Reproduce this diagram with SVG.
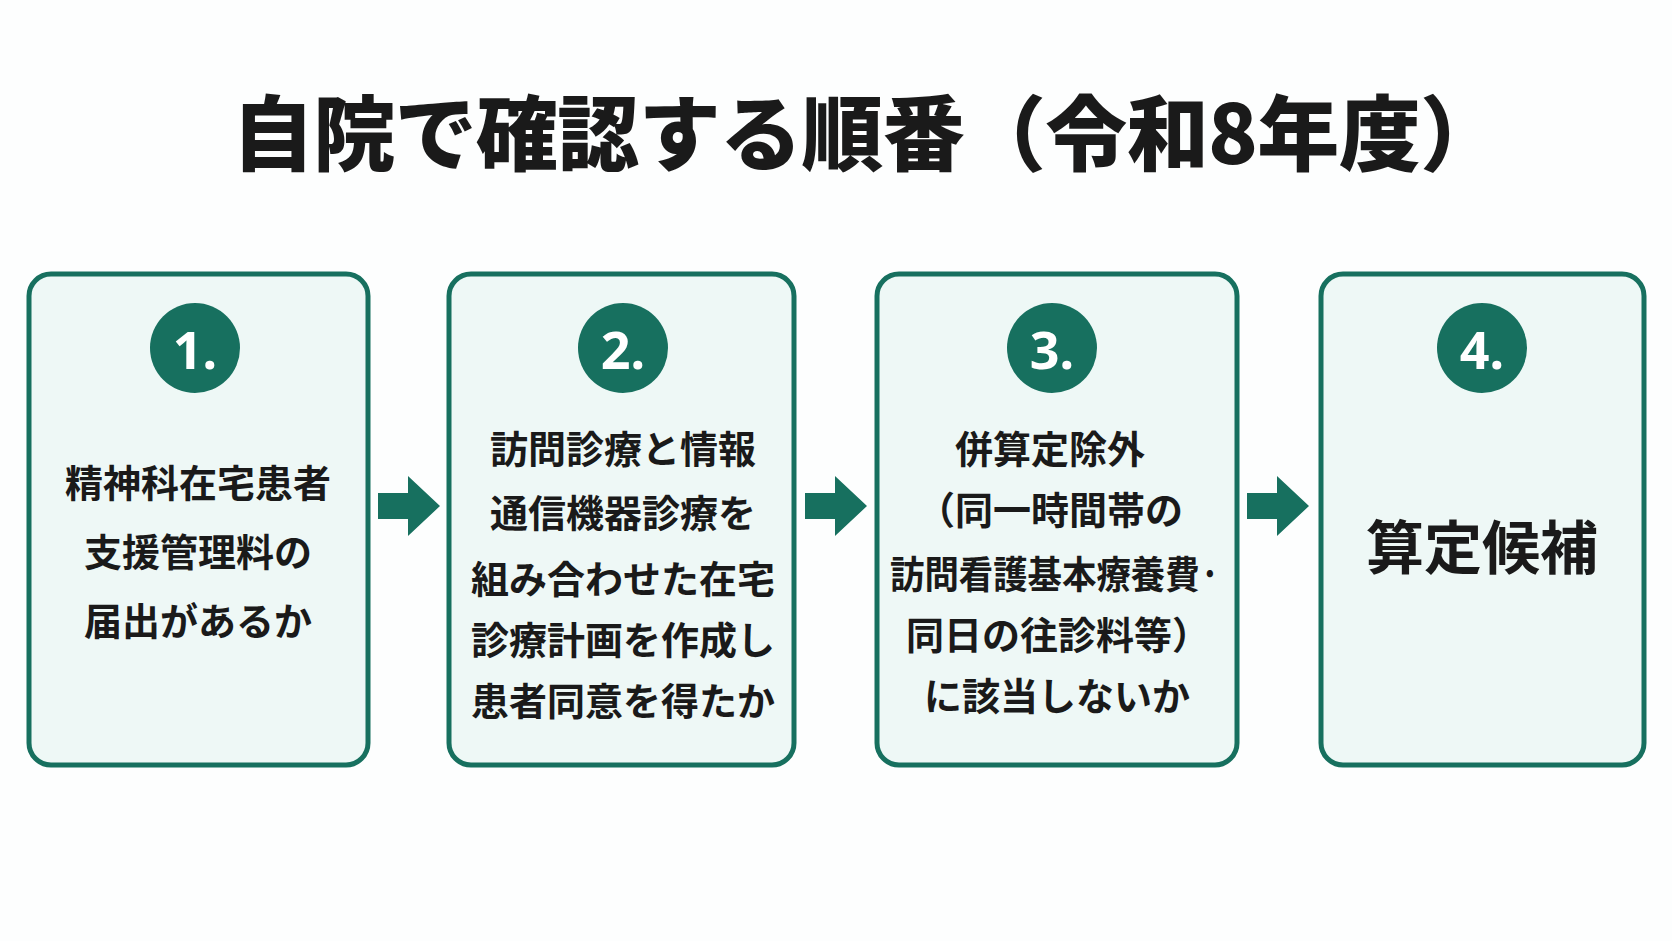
<svg xmlns="http://www.w3.org/2000/svg" width="1672" height="941" viewBox="0 0 1672 941">
<style>
.box{fill:#eef8f6;stroke:#17705f;stroke-width:5}
.num{fill:#17705f}
.nt{fill:#fff;font-family:"Noto Sans","Noto Sans CJK JP",sans-serif;font-weight:700;font-size:52px;text-anchor:middle;dominant-baseline:central}
.t{fill:#1a1a1a;font-family:"Noto Sans CJK JP",sans-serif;font-weight:700;font-size:38px;text-anchor:middle;dominant-baseline:central}
.arr{fill:#17705f}
</style>
<rect width="1672" height="941" fill="#fdfefe"/>
<text x="232" y="128" textLength="1270" lengthAdjust="spacing" style="fill:#1a1a1a;font-family:'Noto Sans CJK JP',sans-serif;font-weight:900;font-size:82px;dominant-baseline:central">自院で確認する順番（令和8年度）</text>
<g id="connectors">
<polygon class="arr" points="378,493 408,493 408,476 440,506 408,536 408,519 378,519"/>
<polygon class="arr" points="805,493 835,493 835,476 867,506 835,536 835,519 805,519"/>
<polygon class="arr" points="1247,493 1277,493 1277,476 1309,506 1277,536 1277,519 1247,519"/>
</g>
<g id="node1">
<rect class="box" x="29" y="274" width="339" height="491" rx="22"/>
<circle class="num" cx="195" cy="348" r="45"/><text class="nt" x="195" y="348">1.</text>
<text class="t" x="198" y="480">精神科在宅患者</text>
<text class="t" x="198" y="549">支援管理料の</text>
<text class="t" x="198" y="618">届出があるか</text>
</g>
<g id="node2">
<rect class="box" x="449" y="274" width="345" height="491" rx="22"/>
<circle class="num" cx="623" cy="348" r="45"/><text class="nt" x="623" y="348">2.</text>
<text class="t" x="623" y="446">訪問診療と情報</text>
<text class="t" x="623" y="510">通信機器診療を</text>
<text class="t" x="623" y="576">組み合わせた在宅</text>
<text class="t" x="623" y="637">診療計画を作成し</text>
<text class="t" x="623" y="698">患者同意を得たか</text>
</g>
<g id="node3">
<rect class="box" x="877" y="274" width="360" height="491" rx="22"/>
<circle class="num" cx="1052" cy="348" r="45"/><text class="nt" x="1052" y="348">3.</text>
<text class="t" x="1050" y="446">併算定除外</text>
<text class="t" x="1050" y="507">（同一時間帯の</text>
<text class="t" x="1055" y="571" textLength="330" lengthAdjust="spacingAndGlyphs">訪問看護基本療養費·</text>
<text class="t" x="1058" y="632">同日の往診料等）</text>
<text class="t" x="1057" y="693">に該当しないか</text>
</g>
<g id="node4">
<rect class="box" x="1321" y="274" width="323" height="491" rx="22"/>
<circle class="num" cx="1482" cy="348" r="45"/><text class="nt" x="1482" y="348">4.</text>
<text class="t" x="1482" y="544" style="font-size:58px">算定候補</text>
</g>
</svg>
